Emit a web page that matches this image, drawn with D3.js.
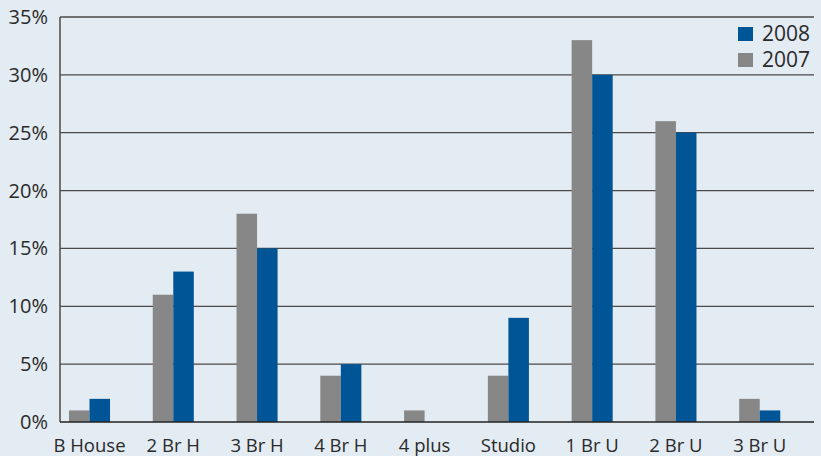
<!DOCTYPE html>
<html><head><meta charset="utf-8">
<script src="https://cdn.jsdelivr.net/npm/d3@7"></script>
<style>body{margin:0;background:#e3ebf3;} svg{display:block;}</style>
</head><body>
<svg id="c" width="821" height="456"></svg>
<script>
const categories = ["B House","2 Br H","3 Br H","4 Br H","4 plus","Studio","1 Br U","2 Br U","3 Br U"];
const values2007 = [1,11,18,4,1,4,33,26,2];
const values2008 = [2,13,15,5,0,9,30,25,1];
const yTicks = [0,5,10,15,20,25,30,35];
const seriesNames = ["2008","2007"];
const colors = {"2008":"#005596","2007":"#878787"};

(function(){
const W=821,H=456, mLeft=60, mRight=814, mTop=17, mBottom=422;
const svg=d3.select("#c");
svg.append("rect").attr("width",W).attr("height",H).attr("fill","#e3ebf3");
const font="'Open Sans', sans-serif";

const y=d3.scaleLinear().domain([0,35]).range([mBottom,mTop]);
const x=d3.scaleBand().domain(categories).range([mLeft,mRight]).paddingInner(0.51).paddingOuter(0.255).align(0.21);
const xs=d3.scaleBand().domain(["2007","2008"]).range([0,x.bandwidth()]);

svg.append("g").selectAll("line").data(yTicks.filter(d=>d>0)).join("line")
  .attr("x1",mLeft).attr("x2",mRight).attr("y1",d=>y(d)).attr("y2",d=>y(d))
  .attr("stroke","#4a4a4a").attr("stroke-width",1.3);

const data=categories.map((c,i)=>({c,v:{"2007":values2007[i],"2008":values2008[i]}}));
const g=svg.append("g");
["2007","2008"].forEach(s=>{
  g.append("g").selectAll("rect").data(data).join("rect")
   .attr("x",d=>x(d.c)+xs(s)).attr("width",xs.bandwidth())
   .attr("y",d=>y(d.v[s])).attr("height",d=>mBottom-y(d.v[s]))
   .attr("fill",colors[s]);
});

svg.append("line").attr("x1",mLeft).attr("x2",mLeft).attr("y1",mTop).attr("y2",mBottom).attr("stroke","#4a4a4a").attr("stroke-width",1.5);
svg.append("line").attr("x1",mLeft).attr("x2",mRight).attr("y1",mBottom).attr("y2",mBottom).attr("stroke","#222").attr("stroke-width",1.5);

svg.append("g").selectAll("text").data(yTicks).join("text")
  .attr("x",48).attr("y",d=>y(d)).attr("dy","0.35em").attr("text-anchor","end")
  .attr("font-family",font).attr("font-size",20).attr("fill","#2a2a2a").text(d=>d+"%");

svg.append("g").selectAll("text").data(categories).join("text")
  .attr("x",d=>x(d)+x.bandwidth()/2).attr("y",452).attr("text-anchor","middle")
  .attr("font-family",font).attr("font-size",18.5).attr("fill","#2a2a2a").text(d=>d);

const lg=svg.append("g");
seriesNames.forEach((s,i)=>{
  lg.append("rect").attr("x",738).attr("y",27+i*26).attr("width",15).attr("height",14).attr("fill",colors[s]);
  lg.append("text").attr("x",762).attr("y",41+i*26).attr("font-family",font).attr("font-size",21).attr("fill","#2a2a2a").text(s);
});
})();
</script>
</body></html>
